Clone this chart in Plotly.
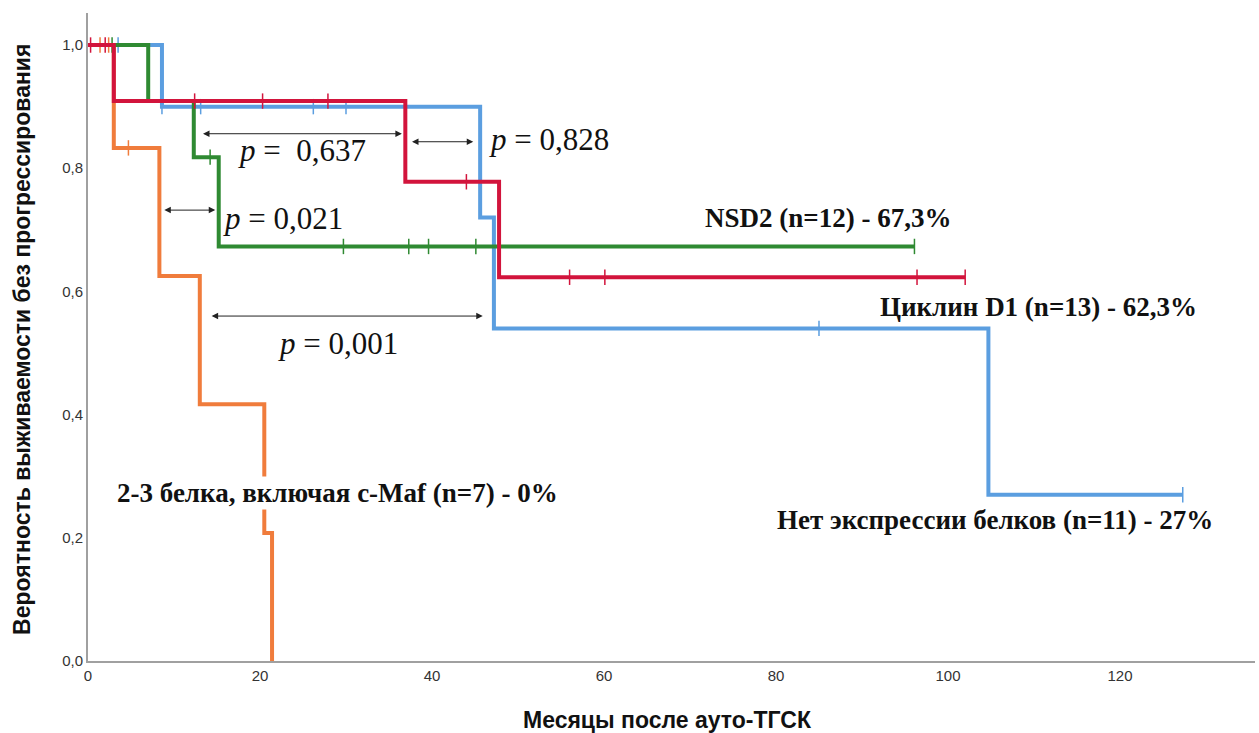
import plotly.graph_objects as go

# ---- data (months, survival probability) ----
blue_t = [0, 8.6, 45.6, 47.2, 104.7, 127.3]
blue_s = [1.0, 0.90, 0.72, 0.54, 0.27, 0.27]
blue_cens_t = [3.5, 8.6, 13.1, 26.2, 30.0, 85.0, 127.3]
blue_cens_s = [1.0, 0.90, 0.90, 0.90, 0.90, 0.54, 0.27]

red_t = [0, 3.0, 36.9, 47.8, 102.0]
red_s = [1.0, 0.909, 0.778, 0.623, 0.623]
red_cens_t = [0.3, 2.0, 12.4, 20.3, 27.9, 44.0, 56.0, 60.1, 96.4, 102.0]
red_cens_s = [1.0, 1.0, 0.909, 0.909, 0.909, 0.778, 0.623, 0.623, 0.623, 0.623]

green_t = [0, 7.0, 12.3, 15.2, 96.1]
green_s = [1.0, 0.909, 0.818, 0.673, 0.673]
green_cens_t = [2.8, 14.2, 29.7, 37.3, 39.6, 45.1, 96.1]
green_cens_s = [1.0, 0.818, 0.673, 0.673, 0.673, 0.673, 0.673]

orange_t = [0, 3.0, 8.3, 13.0, 20.5, 21.4]
orange_s = [1.0, 0.833, 0.625, 0.417, 0.208, 0.0]
orange_cens_t = [1.4, 2.4, 4.7]
orange_cens_s = [1.0, 1.0, 0.833]

x_ticks = [0, 20, 40, 60, 80, 100, 120]
y_ticks = [0.0, 0.2, 0.4, 0.6, 0.8, 1.0]
y_ticktext = ["0,0", "0,2", "0,4", "0,6", "0,8", "1,0"]

group_labels = [
    ("NSD2 (n=12) - 67,3%", 71.5, 0.719),
    ("Циклин D1 (n=13) - 62,3%", 91.9, 0.575),
    ("Нет экспрессии белков (n=11) - 27%", 79.9, 0.229),
    ("2-3 белка, включая c-Maf (n=7) - 0%", 3.1, 0.273),
]

# p-value comparisons: (x0, x1, y, text, text_x, text_y, anchor)
comparisons = [
    (13.2, 36.5, 0.856, "<i>p</i> =  0,637", 24.9, 0.828, "center"),
    (37.5, 44.8, 0.843, "<i>p</i> = 0,828", 46.4, 0.846, "left"),
    (8.7, 14.8, 0.732, "<i>p</i> = 0,021", 15.5, 0.719, "left"),
    (14.2, 45.9, 0.560, "<i>p</i> = 0,001", 29.1, 0.516, "center"),
]

C_BLUE = "#5b9ee0"
C_RED = "#d2143c"
C_GREEN = "#2f8a32"
C_ORANGE = "#f07c3c"

fig = go.Figure()

def add_curve(t, s, ct, cs, color):
    fig.add_trace(go.Scatter(x=t, y=s, mode="lines", line=dict(color=color, width=4, shape="hv"),
                             showlegend=False, hoverinfo="skip"))
    fig.add_trace(go.Scatter(x=ct, y=cs, mode="markers",
                             marker=dict(symbol="line-ns", size=11, line=dict(color=color, width=1.5)),
                             showlegend=False, hoverinfo="skip"))

add_curve(blue_t, blue_s, blue_cens_t, blue_cens_s, C_BLUE)
add_curve(orange_t, orange_s, orange_cens_t, orange_cens_s, C_ORANGE)
add_curve(green_t, green_s, green_cens_t, green_cens_s, C_GREEN)
add_curve(red_t, red_s, red_cens_t, red_cens_s, C_RED)

annotations = []
for x0, x1, y, txt, tx, ty, anc in comparisons:
    annotations.append(dict(x=x1, y=y, ax=x0, ay=y, xref="x", yref="y", axref="x", ayref="y",
                            text="", showarrow=True, arrowhead=2, startarrowhead=2,
                            arrowside="end+start", arrowwidth=1, arrowsize=1.3,
                            startarrowsize=1.3, arrowcolor="#222222"))
    annotations.append(dict(x=tx, y=ty, xref="x", yref="y", text=txt, showarrow=False,
                            xanchor=anc, yanchor="middle",
                            font=dict(family="Liberation Serif", size=31, color="#111111")))

for i, (txt, lx, ly) in enumerate(group_labels):
    annotations.append(dict(x=lx, y=ly, xref="x", yref="y", text="<b>" + txt + "</b>",
                            showarrow=False, xanchor="left", yanchor="middle",
                            bgcolor="white" if i == 3 else None,
                            font=dict(family="Liberation Serif", size=27, color="#111111")))

annotations.append(dict(x=-0.0566, y=0.497, xref="paper", yref="paper",
                        text="<b>Вероятность выживаемости без прогрессирования</b>",
                        textangle=-90, showarrow=False, xanchor="center", yanchor="middle",
                        font=dict(family="Liberation Sans", size=23, color="#111111")))
annotations.append(dict(x=0.497, y=-0.091, xref="paper", yref="paper",
                        text="<b>Месяцы после ауто-ТГСК</b>",
                        showarrow=False, xanchor="center", yanchor="middle",
                        font=dict(family="Liberation Sans", size=23, color="#111111")))

fig.update_layout(
    width=1259, height=733,
    margin=dict(l=88, r=4, t=13, b=72),
    paper_bgcolor="white", plot_bgcolor="white",
    annotations=annotations,
    xaxis=dict(range=[0, 135.7], tickvals=x_ticks, showgrid=False, zeroline=False,
               showline=True, linecolor="#a0a0a0", linewidth=2, ticks="",
               tickfont=dict(family="Liberation Sans", size=15, color="#333333")),
    yaxis=dict(range=[0, 1.052], tickvals=y_ticks, ticktext=y_ticktext, showgrid=False,
               zeroline=False, showline=True, linecolor="#a0a0a0", linewidth=2, ticks="",
               tickfont=dict(family="Liberation Sans", size=15, color="#333333")),
)

fig.write_html("out.html")
